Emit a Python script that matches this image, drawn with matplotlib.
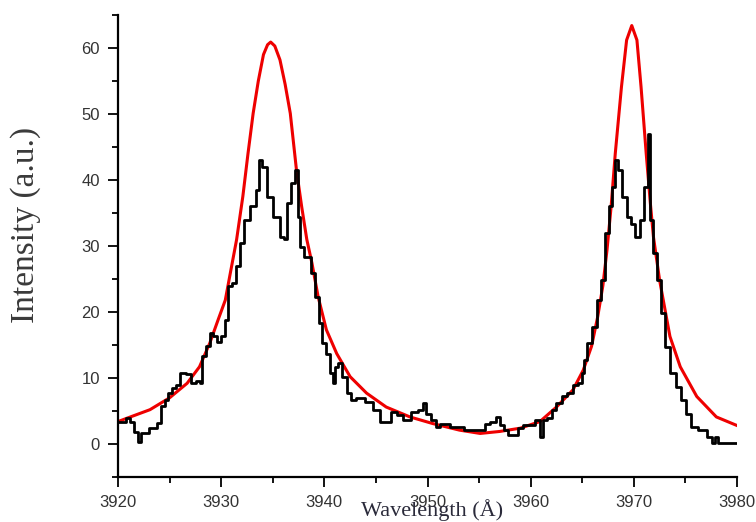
import matplotlib
matplotlib.use("Agg")
import matplotlib.pyplot as plt
from matplotlib.ticker import MultipleLocator

# measured spectrum (black)
meas_wl = [3920.0, 3920.5, 3921.0, 3921.4, 3921.7, 3922.1, 3922.4, 3922.8, 3923.2, 3923.6,
           3924.0, 3924.4, 3924.7, 3925.0, 3925.4, 3925.8, 3926.3, 3926.8, 3927.3, 3927.8,
           3928.0, 3928.3, 3928.8, 3929.0, 3929.4, 3929.7, 3930.2, 3930.5, 3930.8, 3931.3,
           3931.6, 3932.0, 3932.5, 3933.1, 3933.6, 3933.8, 3934.1, 3934.7, 3935.4, 3936.0,
           3936.2, 3936.5, 3937.0, 3937.3, 3937.5, 3937.8, 3938.3, 3938.6, 3938.9, 3939.3,
           3939.6, 3939.9, 3940.4, 3940.7, 3940.9, 3941.2, 3941.5, 3942.0, 3942.3, 3942.8,
           3943.4, 3944.4, 3945.1, 3945.7, 3946.2, 3946.7, 3947.3, 3948.0, 3948.8, 3949.4,
           3949.7, 3950.1, 3950.6, 3951.0, 3951.4, 3951.8, 3952.5, 3953.2, 3953.8, 3955.4,
           3955.7, 3956.4, 3956.9, 3957.2, 3957.7, 3958.0, 3958.6, 3959.0, 3959.6, 3960.2,
           3960.7, 3961.1, 3961.3, 3961.9, 3962.2, 3962.7, 3963.3, 3963.8, 3964.4, 3964.8,
           3965.1, 3965.3, 3965.7, 3966.2, 3966.7, 3967.0, 3967.4, 3967.7, 3968.0, 3968.4,
           3968.6, 3969.1, 3969.6, 3969.9, 3970.4, 3970.8, 3971.2, 3971.5, 3971.7, 3972.0,
           3972.4, 3972.8, 3973.3, 3973.8, 3974.3, 3974.8, 3975.3, 3975.7, 3976.7, 3977.4,
           3977.7, 3978.0, 3978.3, 3980.0]
meas_int = [3.4, 3.4, 3.9, 3.4, 1.8, 0.3, 1.6, 1.6, 2.4, 2.4,
            3.2, 5.7, 6.7, 7.7, 8.5, 9.0, 10.8, 10.6, 9.3, 9.5,
            9.2, 13.3, 14.8, 16.8, 16.3, 15.5, 16.3, 18.8, 23.9, 24.4,
            26.9, 30.4, 33.9, 36.0, 38.5, 43.0, 42.0, 37.5, 34.4, 31.4,
            31.0, 36.5, 39.5, 41.5, 34.4, 29.9, 28.4, 28.4, 25.9, 22.3,
            18.3, 15.3, 13.7, 10.7, 9.2, 11.7, 12.2, 10.2, 7.7, 6.7,
            6.9, 6.4, 5.2, 3.4, 3.4, 4.9, 4.4, 3.6, 4.9, 5.2,
            6.2, 4.6, 3.6, 2.6, 3.1, 3.1, 2.6, 2.6, 2.1, 2.1,
            3.1, 3.4, 4.1, 2.9, 2.1, 1.4, 1.4, 2.4, 2.9, 2.9,
            3.6, 1.1, 3.6, 3.9, 5.2, 6.2, 7.2, 7.7, 8.9, 9.2,
            10.7, 12.7, 15.3, 17.8, 21.8, 24.8, 31.9, 36.0, 39.0, 43.0,
            41.5, 37.5, 34.4, 33.4, 31.4, 33.9, 39.0, 47.0, 33.9, 28.9,
            24.8, 19.8, 14.7, 10.7, 8.7, 6.7, 4.6, 2.6, 2.1, 1.1,
            0.1, 1.1, 0.1, 0.1]

# fitted profile (red)
fit_wl = [3920.0, 3921.2, 3923.1, 3925.0, 3926.7, 3927.9, 3928.9, 3929.7, 3930.4, 3930.9,
          3931.5, 3932.1, 3932.6, 3933.1, 3933.6, 3934.1, 3934.5, 3934.8, 3935.2, 3935.7,
          3936.2, 3936.7, 3937.3, 3937.8, 3938.3, 3938.8, 3939.4, 3940.2, 3941.2, 3942.5,
          3944.1, 3946.0, 3948.3, 3950.5, 3953.1, 3955.1, 3957.0, 3959.0, 3960.9, 3962.5,
          3964.1, 3965.1, 3965.9, 3966.5, 3967.0, 3967.4, 3967.8, 3968.2, 3968.8, 3969.3,
          3969.8, 3970.3, 3970.7, 3971.2, 3971.6, 3971.9, 3972.5, 3973.5, 3974.5, 3976.1,
          3978.0, 3980.0]
fit_int = [3.4, 4.1, 5.2, 7.0, 9.2, 11.7, 15.3, 18.8, 21.8, 26.0,
           31.0, 37.5, 44.0, 50.1, 55.0, 59.0, 60.5, 60.9, 60.3, 58.2,
           54.5, 50.1, 41.5, 36.0, 31.0, 27.4, 22.3, 17.3, 13.7, 10.2,
           7.7, 5.6, 4.1, 3.1, 2.1, 1.6, 1.9, 2.4, 3.4, 5.6,
           8.2, 11.2, 14.8, 19.3, 24.0, 29.4, 36.0, 44.0, 54.1, 61.2,
           63.4, 61.2, 54.1, 44.0, 36.5, 31.4, 24.8, 16.3, 11.7, 7.2,
           4.1, 2.8]

fig = plt.figure(figsize=(7.56, 5.22), dpi=100)
ax = fig.add_axes([118 / 756, 45 / 522, 619 / 756, 462 / 522])

ax.plot(fit_wl, fit_int, color='#ee0000', lw=2.2)
ax.plot(meas_wl, meas_int, color='black', lw=2.0, drawstyle='steps-mid')

ax.set_xlim(3920, 3980)
ax.set_ylim(-5, 65)
ax.xaxis.set_major_locator(MultipleLocator(10))
ax.xaxis.set_minor_locator(MultipleLocator(5))
ax.yaxis.set_major_locator(MultipleLocator(10))
ax.yaxis.set_minor_locator(MultipleLocator(5))

for s in ['top', 'right']:
    ax.spines[s].set_visible(False)
for s in ['left', 'bottom']:
    ax.spines[s].set_linewidth(1.6)

ax.tick_params(which='major', direction='out', length=7, width=1.3, pad=6,
               labelsize=12, labelcolor='#333333')
ax.tick_params(which='minor', direction='out', length=4, width=1.3)
for lab in ax.get_xticklabels() + ax.get_yticklabels():
    lab.set_family('Liberation Sans')

ax.set_xlabel('Wavelength (Å)', family='Liberation Serif', fontsize=16, color='#2a2a3a')
ax.xaxis.set_label_coords(0.507, -0.047)
ax.xaxis.label.set_va('top')
ax.set_ylabel('Intensity (a.u.)', family='Liberation Serif', fontsize=24, color='#3a3a3a')
ax.yaxis.set_label_coords(-0.150, 0.545)
ax.yaxis.label.set_va('center')

fig.savefig('out.png', dpi=100)
